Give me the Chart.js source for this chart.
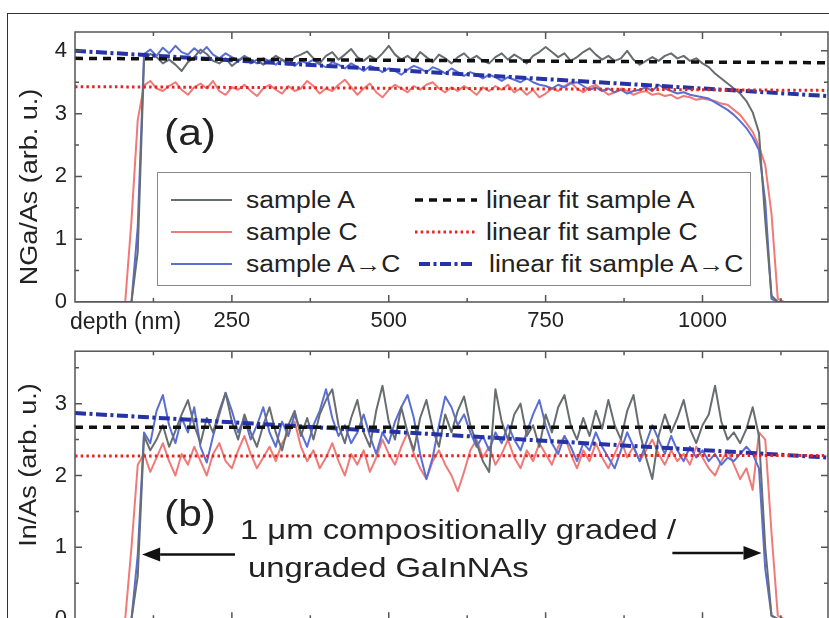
<!DOCTYPE html>
<html><head><meta charset="utf-8">
<script src="https://cdn.jsdelivr.net/npm/chart.js@4.4.1/dist/chart.umd.min.js"></script>
<style>
html,body{margin:0;padding:0;width:829px;height:618px;overflow:hidden;background:#fff;font-family:"Liberation Sans",Arial,sans-serif;color:#222}
#frame{position:absolute;left:7px;top:13px;width:900px;height:700px;border:1.5px solid #333;box-sizing:border-box}
#ca{position:absolute;left:0;top:0}
#cb{position:absolute;left:0;top:330px}
.t{position:absolute;white-space:nowrap;line-height:1}
.c{transform:translate(-50%,-50%) scaleX(1.15)}
.v{transform:translate(-50%,-50%) rotate(-90deg) scaleX(1.15)}
.l{transform-origin:0 50%;transform:translateY(-50%) scaleX(1.15)}
#legend{position:absolute;left:157px;top:172px;width:594px;height:114px;border:1.5px solid #8a8a8a;box-sizing:border-box;background:#fff}
svg.sw{position:absolute}
</style></head>
<body>
<div id="frame"></div>
<canvas id="ca" width="829" height="340"></canvas>
<canvas id="cb" width="829" height="330"></canvas>
<div id="legend"></div>
<div class="t v" style="left:30px;top:187px;font-size:23.5px">NGa/As (arb. u.)</div>
<div class="t v" style="left:29px;top:465px;font-size:23.5px">In/As (arb. u.)</div>
<div class="t" style="left:70px;top:310px;font-size:23px">depth (nm)</div>
<div class="t c" style="left:190px;top:132px;font-size:37px">(a)</div>
<div class="t c" style="left:190px;top:513px;font-size:37px">(b)</div>
<div class="t l" style="left:240px;top:529px;font-size:28.5px">1 μm compositionally graded /</div>
<div class="t l" style="left:248px;top:567px;font-size:28.5px">ungraded GaInNAs</div>
<script>
// ---------- data ----------
const depth = [0,80,90,100,110,120,130,140,150,160,170,180,190,200,210,220,230,240,250,260,270,280,290,300,310,320,330,340,350,360,370,380,390,400,410,420,430,440,450,460,470,480,490,500,510,520,530,540,550,560,570,580,590,600,610,620,630,640,650,660,670,680,690,700,710,720,730,740,750,760,770,780,790,800,810,820,830,840,850,860,870,880,890,900,910,920,930,940,950,960,970,980,990,1000,1010,1020,1030,1040,1050,1060,1070,1080,1090,1100,1110,1120,1130,1140,1200];

const ngaSampleA = [0,
 0,0,0.8,3.85,3.95,3.9,3.8,3.86,3.78,3.68,
 3.82,3.9,4.02,3.95,3.84,3.8,3.88,3.76,3.84,3.9,
 3.8,3.86,3.78,3.84,3.92,3.86,3.78,3.9,3.94,3.99,
 3.88,3.8,3.92,3.98,3.86,3.94,4.03,3.9,3.84,3.92,
 3.86,3.96,4.08,3.94,3.86,3.92,3.84,3.98,3.9,3.82,
 3.94,3.88,3.8,3.9,3.96,3.86,3.92,3.84,3.8,3.9,
 3.96,3.86,3.94,3.88,3.8,3.92,3.98,4.06,3.98,3.9,
 3.96,3.84,3.9,3.98,4.04,3.94,3.86,3.92,3.84,3.88,
 4.0,3.86,3.78,3.84,3.9,3.84,3.92,3.96,3.88,3.92,
 3.84,3.88,3.8,3.74,3.64,3.56,3.48,3.4,3.32,3.2,
 3.02,2.7,1.3,0.1,0,0,0,
 0];
const ngaSampleC = [0,
 0,1.3,2.9,3.45,3.52,3.4,3.36,3.44,3.5,3.38,
 3.3,3.42,3.48,3.4,3.52,3.36,3.3,3.42,3.38,3.46,
 3.36,3.28,3.4,3.46,3.38,3.32,3.44,3.36,3.4,3.52,
 3.44,3.32,3.4,3.36,3.46,3.54,3.42,3.3,3.4,3.48,
 3.34,3.26,3.38,3.46,3.4,3.34,3.44,3.38,3.46,3.5,
 3.4,3.34,3.42,3.36,3.44,3.38,3.3,3.42,3.36,3.44,
 3.38,3.46,3.34,3.4,3.3,3.38,3.26,3.32,3.4,3.36,
 3.44,3.5,3.4,3.34,3.42,3.46,3.38,3.3,3.34,3.4,
 3.36,3.3,3.34,3.36,3.3,3.32,3.28,3.3,3.24,3.28,
 3.26,3.22,3.24,3.22,3.2,3.16,3.14,3.06,2.98,2.85,
 2.71,2.48,2.18,1.4,0.05,0,0,
 0];
const ngaSampleAC = [0,
 0,0,1.2,3.95,4.02,3.92,4.05,3.96,4.08,3.98,
 3.94,4.04,3.96,4.06,3.94,3.88,3.96,3.9,3.84,3.92,
 3.86,3.8,3.88,3.84,3.78,3.86,3.82,3.76,3.84,3.8,
 3.86,3.78,3.74,3.82,3.78,3.72,3.8,3.74,3.68,3.76,
 3.72,3.66,3.72,3.68,3.62,3.7,3.76,3.72,3.66,3.74,
 3.7,3.64,3.72,3.66,3.6,3.66,3.62,3.56,3.62,3.58,
 3.52,3.58,3.54,3.5,3.56,3.5,3.46,3.44,3.4,3.46,
 3.42,3.48,3.5,3.44,3.38,3.42,3.36,3.4,3.34,3.38,
 3.32,3.36,3.38,3.42,3.36,3.46,3.4,3.36,3.32,3.34,
 3.3,3.28,3.26,3.24,3.18,3.12,3.06,2.98,2.88,2.77,
 2.62,2.42,1.6,0.05,0,0,0,
 0];

const inSampleA = [0,
 0,0,0.6,2.55,2.35,2.5,2.7,2.4,2.62,2.85,
 3.05,2.7,2.45,2.8,2.6,2.9,3.15,2.75,2.5,2.85,
 2.6,2.4,2.7,2.95,2.6,2.35,2.7,2.9,2.55,2.8,
 2.5,2.85,3.05,3.2,2.7,2.45,2.8,3.05,2.6,2.4,
 2.9,3.25,2.75,2.5,2.95,2.6,2.35,2.8,3.05,2.65,
 2.4,2.85,2.6,2.9,3.1,2.7,2.45,2.2,2.05,3.2,
 2.75,2.5,2.85,3.0,2.55,2.7,2.4,2.85,2.6,2.95,
 3.12,2.7,2.5,2.8,2.55,2.9,2.65,3.05,2.7,2.5,
 2.9,3.12,2.6,2.25,1.95,2.55,2.85,2.6,2.8,3.05,
 2.65,2.45,2.7,2.85,3.25,2.75,2.5,2.6,2.45,2.65,
 2.95,2.55,1.0,0.05,0,0,0,
 0];
const inSampleC = [0,
 0,1.0,2.15,2.3,2.05,2.25,2.45,2.2,2.0,2.3,
 2.15,2.4,2.2,2.0,2.3,2.45,2.2,2.1,2.35,2.55,
 2.3,2.1,2.25,2.4,2.2,2.45,2.6,2.75,2.4,2.2,
 2.35,2.1,2.25,2.45,2.2,2.0,2.3,2.15,2.35,2.05,
 2.25,2.5,2.3,2.15,2.4,2.6,2.3,2.1,1.95,2.2,
 2.35,2.15,2.0,1.78,2.05,2.35,2.5,2.25,2.4,2.15,
 2.3,2.5,2.25,2.1,2.35,2.2,2.45,2.3,2.15,2.4,
 2.55,2.3,2.1,2.35,2.2,2.45,2.25,2.1,2.3,2.5,
 2.25,2.4,2.2,2.35,2.5,2.3,2.15,2.35,2.2,2.3,
 2.15,2.4,2.25,2.1,2.0,2.2,2.35,2.15,1.95,2.1,
 1.8,2.6,2.5,1.2,0.05,0,0,
 0];
const inSampleAC = [0,
 0,0,0.9,2.6,2.45,2.9,3.12,2.7,2.45,2.8,
 2.6,2.95,2.4,2.18,2.55,2.85,3.15,2.9,2.6,2.8,
 2.5,2.7,2.95,2.6,2.4,2.75,2.55,2.85,2.6,2.4,
 2.7,2.9,3.2,2.8,2.55,2.7,2.45,2.6,2.85,2.55,
 2.3,2.6,2.45,2.75,2.95,3.12,2.8,2.3,1.95,2.25,
 2.7,3.1,2.95,2.7,2.85,2.6,2.4,2.55,2.35,2.6,
 2.45,2.7,2.5,2.35,2.6,2.85,3.05,2.7,2.45,2.3,
 2.55,2.4,2.2,2.45,2.35,2.6,2.4,2.25,2.1,2.35,
 2.6,2.4,2.2,2.45,2.7,2.5,2.3,2.55,2.35,2.2,
 2.4,2.25,2.35,2.2,2.3,2.15,2.25,2.2,2.3,2.4,
 2.3,2.1,0.7,0.05,0,0,0,
 0];

const fitDepth = [0, 1200];
const ngaFitA = [3.88, 3.81];
const ngaFitC = [3.43, 3.37];
const ngaFitAC = [4.0, 3.28];
const inFitA = [2.67, 2.67];
const inFitC = [2.27, 2.28];
const inFitAC = [2.87, 2.25];

const xTickLabels = [250, 500, 750, 1000];
const yTicksA = [0, 1, 2, 3, 4];
const yTicksB = [0, 1, 2, 3];
const legendLabels = ['sample A','sample C','sample A→C','linear fit sample A','linear fit sample C','linear fit sample A→C'];
// annotation arrows (data units): depth from -> to, at In/As level
const arrowsB = [{from:255, to:107, y:0.9}, {from:952, to:1094, y:0.92}];

// ---------- styles ----------
const ST = {
  A:  {borderColor:'#686d70', borderWidth:2},
  C:  {borderColor:'#ef7a77', borderWidth:2},
  AC: {borderColor:'#5a6ed4', borderWidth:2},
  fA: {borderColor:'#111111', borderWidth:3.5, borderDash:[8,6]},
  fC: {borderColor:'#e5261f', borderWidth:3, borderDash:[2.5,3.2]},
  fAC:{borderColor:'#2633a6', borderWidth:4, borderDash:[11,3.5,3,3.5]}
};
const pts = (xs, ys) => ys.map((v,i)=>({x:xs[i], y:v}));

const frameTicks = {
  id:'frameTicks',
  afterDraw(chart){
    const {ctx, chartArea:a, scales:{x,y}} = chart;
    ctx.save();
    ctx.strokeStyle = '#555'; ctx.lineWidth = 1.5;
    ctx.strokeRect(a.left, a.top, a.right-a.left, a.bottom-a.top);
    ctx.beginPath();
    const xStep = (xTickLabels[1]-xTickLabels[0])/2;
    for (let k=1; x.min + k*xStep < x.max; k++){
      const v = x.min + k*xStep, len = (k%2===0)?7:4, px = x.getPixelForValue(v);
      ctx.moveTo(px,a.bottom); ctx.lineTo(px,a.bottom-len);
      ctx.moveTo(px,a.top); ctx.lineTo(px,a.top+len);
    }
    for (let k=1; y.min + k*0.5 < y.max; k++){
      const v = y.min + k*0.5, len = (k%2===0)?7:4, py = y.getPixelForValue(v);
      ctx.moveTo(a.left,py); ctx.lineTo(a.left+len,py);
      ctx.moveTo(a.right,py); ctx.lineTo(a.right-len,py);
    }
    ctx.stroke();
    ctx.restore();
  }
};
const arrowPlugin = {
  id:'arrowPlugin',
  afterDatasetsDraw(chart, args, opts){
    if (!opts.list) return;
    const {ctx, scales:{x,y}} = chart;
    ctx.save();
    ctx.strokeStyle = '#111'; ctx.fillStyle = '#111'; ctx.lineWidth = 2.5;
    opts.list.forEach(ar=>{
      const x0 = x.getPixelForValue(ar.from), x1 = x.getPixelForValue(ar.to), py = y.getPixelForValue(ar.y);
      const dir = Math.sign(x1-x0), head = 18;
      ctx.beginPath(); ctx.moveTo(x0,py); ctx.lineTo(x1-dir*head,py); ctx.stroke();
      ctx.beginPath(); ctx.moveTo(x1,py); ctx.lineTo(x1-dir*head,py-7); ctx.lineTo(x1-dir*head,py+7); ctx.closePath(); ctx.fill();
    });
    ctx.restore();
  }
};

function makePanel(id, cfg){
  const font = {family:'"Liberation Sans", Arial, sans-serif', size:22};
  return new Chart(document.getElementById(id), {
    type:'line',
    data:{datasets:[
      Object.assign({label:legendLabels[3], data:pts(fitDepth,cfg.fA)}, ST.fA),
      Object.assign({label:legendLabels[4], data:pts(fitDepth,cfg.fC)}, ST.fC),
      Object.assign({label:legendLabels[5], data:pts(fitDepth,cfg.fAC)}, ST.fAC),
      Object.assign({label:legendLabels[0], data:pts(depth,cfg.A)}, ST.A),
      Object.assign({label:legendLabels[2], data:pts(depth,cfg.AC)}, ST.AC),
      Object.assign({label:legendLabels[1], data:pts(depth,cfg.C)}, ST.C)
    ]},
    options:{
      responsive:false, animation:false,
      layout:{padding:{top:cfg.padTop, right:1, left:0, bottom:0}},
      elements:{point:{radius:0}, line:{tension:0, borderJoinStyle:'round', fill:false}},
      plugins:{legend:{display:false}, tooltip:{enabled:false}, arrowPlugin:{list:cfg.arrows}},
      scales:{
        x:{type:'linear', min:0, max:1200,
           afterBuildTicks:s=>{s.ticks = xTickLabels.map(v=>({value:v}));},
           afterFit:s=>{s.height = cfg.xH;},
           grid:{display:false, drawTicks:false}, border:{display:false},
           ticks:{display:cfg.xLabels, font, color:'#222', padding:6, maxRotation:0, autoSkip:false,
                  callback:v=>String(v)}},
        y:{type:'linear', min:0, max:cfg.yMax,
           afterBuildTicks:s=>{s.ticks = cfg.yTicks.map(v=>({value:v}));},
           afterFit:s=>{s.width = 75;},
           grid:{display:false, drawTicks:false}, border:{display:false},
           ticks:{font, color:'#222', padding:8, callback:v=>String(v)}}
      }
    },
    plugins:[frameTicks, arrowPlugin]
  });
}

makePanel('ca', {A:ngaSampleA, C:ngaSampleC, AC:ngaSampleAC, fA:ngaFitA, fC:ngaFitC, fAC:ngaFitAC,
  yMax:4.3, yTicks:yTicksA, padTop:32, xH:38, xLabels:true});
makePanel('cb', {A:inSampleA, C:inSampleC, AC:inSampleAC, fA:inFitA, fC:inFitC, fAC:inFitAC,
  yMax:3.73, yTicks:yTicksB, padTop:12.7, xH:40.8, xLabels:false, arrows:arrowsB});

// ---------- legend ----------
(function(){
  const lg = document.body;
  const rows = [200, 232, 264];
  const items = [
    {st:ST.A,  x0:171, x1:232, tx:246, row:0, label:legendLabels[0]},
    {st:ST.C,  x0:171, x1:232, tx:246, row:1, label:legendLabels[1]},
    {st:ST.AC, x0:171, x1:232, tx:246, row:2, label:legendLabels[2]},
    {st:ST.fA, x0:415, x1:477, tx:486, row:0, label:legendLabels[3]},
    {st:ST.fC, x0:415, x1:477, tx:486, row:1, label:legendLabels[4]},
    {st:ST.fAC,x0:419, x1:475, tx:489, row:2, label:legendLabels[5]}
  ];
  items.forEach(it=>{
    const y = rows[it.row];
    const svg = document.createElementNS('http://www.w3.org/2000/svg','svg');
    svg.setAttribute('class','sw');
    svg.setAttribute('width', it.x1-it.x0); svg.setAttribute('height', 10);
    svg.style.left = it.x0+'px'; svg.style.top = (y-5)+'px';
    const ln = document.createElementNS('http://www.w3.org/2000/svg','line');
    ln.setAttribute('x1',0); ln.setAttribute('x2',it.x1-it.x0); ln.setAttribute('y1',5); ln.setAttribute('y2',5);
    ln.setAttribute('stroke', it.st.borderColor); ln.setAttribute('stroke-width', it.st.borderWidth);
    if (it.st.borderDash) ln.setAttribute('stroke-dasharray', it.st.borderDash.join(' '));
    svg.appendChild(ln); lg.appendChild(svg);
    const d = document.createElement('div');
    d.className = 't l'; d.style.left = it.tx+'px'; d.style.top = y+'px'; d.style.fontSize = '23px';
    d.textContent = it.label; lg.appendChild(d);
  });
})();
</script>
</body></html>
